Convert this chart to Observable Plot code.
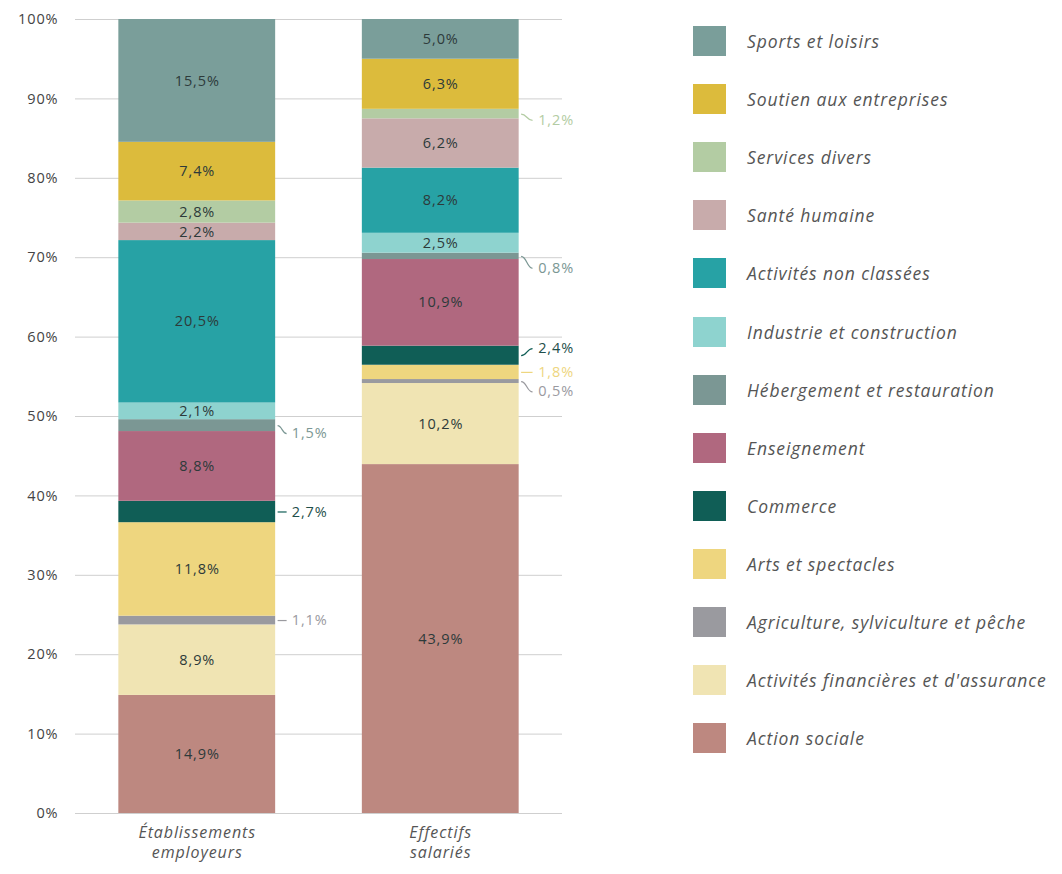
<!DOCTYPE html>
<html>
<head>
<meta charset="utf-8">
<script src="https://cdn.jsdelivr.net/npm/d3@7"></script>
<script src="https://cdn.jsdelivr.net/npm/@observablehq/plot@0.6"></script>
<style>
  html, body { margin: 0; padding: 0; background: #fff; }
  #wrap { position: relative; width: 1062px; height: 874px; overflow: hidden; font-family: "Open Sans", sans-serif; }
  #chart { position: absolute; left: 0; top: 0; }
  #chart svg text { letter-spacing: 0.9px; }
  #legend { position: absolute; left: 693px; top: 12px; }
  .item { display: flex; align-items: center; height: 58.1px; }
  .sw { width: 33px; height: 30px; flex: none; }
  .lb { margin-left: 21px; font-size: 17.5px; letter-spacing: 0.9px; font-style: italic; color: #555; white-space: nowrap; }
</style>
</head>
<body>
<div id="wrap">
  <div id="chart"></div>
  <div id="legend"></div>
</div>
<script>
// ---- Data ----
const categories = ["Établissements\nemployeurs", "Effectifs\nsalariés"];
const sectors = [
  "Action sociale",
  "Activités financières et d'assurance",
  "Agriculture, sylviculture et pêche",
  "Arts et spectacles",
  "Commerce",
  "Enseignement",
  "Hébergement et restauration",
  "Industrie et construction",
  "Activités non classées",
  "Santé humaine",
  "Services divers",
  "Soutien aux entreprises",
  "Sports et loisirs"
];
const etablissements = [14.9, 8.9, 1.1, 11.8, 2.7, 8.8, 1.5, 2.1, 20.5, 2.2, 2.8, 7.4, 15.5];
const effectifs      = [43.9, 10.2, 0.5, 1.8, 2.4, 10.9, 0.8, 2.5, 8.2, 6.2, 1.2, 6.3, 5.0];
const yTicks = [0, 10, 20, 30, 40, 50, 60, 70, 80, 90, 100];

// ---- Styles ----
const colors = [
  "#bd8880", "#f0e4b3", "#9a9a9f", "#eed67f", "#105e56", "#b0687f", "#7b9794",
  "#8ed3cf", "#27a2a5", "#c8abab", "#b3cca3", "#dcbb3c", "#7a9e9a"
];
const barHalf = 0.322;
// vertical nudge (in y units, negative = downward) of outside labels
const nudges = {
  "0|Hébergement et restauration": -1.0,
  "1|Services divers": -0.8,
  "1|Hébergement et restauration": -1.5,
  "1|Commerce": 0.9,
  "1|Agriculture, sylviculture et pêche": -1.3
};

// ---- Build rows (stack, normalized to 100) ----
const series = [etablissements, effectifs];
const rows = [];
series.forEach((vals, ci) => {
  const total = d3.sum(vals);
  let acc = 0;
  vals.forEach((v, si) => {
    const y1 = acc / total * 100;
    acc += v;
    const y2 = acc / total * 100;
    rows.push({
      ci, sector: sectors[si], value: v, color: colors[si],
      y1, y2, mid: (y1 + y2) / 2,
      label: v.toFixed(1).replace(".", ",") + "%",
      outside: v < 2 || sectors[si] === "Commerce"
    });
  });
});
const inside = rows.filter(d => !d.outside);
const outside = rows.filter(d => d.outside).map(d => ({
  ...d, ly: d.mid + (nudges[d.ci + "|" + d.sector] || 0)
}));

const chart = Plot.plot({
  width: 640,
  height: 874,
  marginLeft: 75,
  marginRight: 78,
  marginTop: 19,
  marginBottom: 61,
  x: {domain: [-0.5, 1.5], axis: null},
  y: {domain: [0, 100], axis: null},
  style: {fontFamily: "'Open Sans', sans-serif", background: "#fff", color: "#444"},
  marks: [
    Plot.ruleY(yTicks, {stroke: "#cfcfcf", strokeWidth: 1}),
    Plot.axisY({ticks: yTicks, tickFormat: d => d + "%", tickSize: 0, tickPadding: 17, fontSize: 14.5, fill: "#444", label: null}),
    Plot.axisX({ticks: [0, 1], tickFormat: i => categories[i], tickSize: 0, tickPadding: 10, fontSize: 16, fontStyle: "italic", fill: "#555", lineHeight: 1.25, label: null}),
    Plot.rectY(rows, {x1: d => d.ci - barHalf, x2: d => d.ci + barHalf, y1: "y1", y2: "y2", fill: "color"}),
    Plot.text(inside, {x: "ci", y: "mid", text: "label", fill: "#2d3a3a", fontSize: 14.5}),
    Plot.link(outside, {
      x1: d => d.ci + barHalf + 0.008, y1: "mid",
      x2: d => d.ci + barHalf + (d.ci === 0 ? 0.045 : 0.055), y2: "ly",
      curve: "bump-x", stroke: "color", strokeWidth: 1.2
    }),
    Plot.text(outside, {
      x: d => d.ci + barHalf + (d.ci === 0 ? 0.066 : 0.078), y: "ly",
      text: "label", fill: d => d.sector === "Commerce" ? "#1f4f4a" : d.color,
      textAnchor: "start", fontSize: 14.5
    })
  ]
});
document.getElementById("chart").appendChild(chart);

// ---- Legend (reverse stack order) ----
const legend = document.getElementById("legend");
sectors.map((s, i) => ({s, c: colors[i]})).reverse().forEach(({s, c}) => {
  const item = document.createElement("div");
  item.className = "item";
  const sw = document.createElement("div");
  sw.className = "sw";
  sw.style.background = c;
  const lb = document.createElement("div");
  lb.className = "lb";
  lb.textContent = s;
  item.appendChild(sw);
  item.appendChild(lb);
  legend.appendChild(item);
});
</script>
</body>
</html>
